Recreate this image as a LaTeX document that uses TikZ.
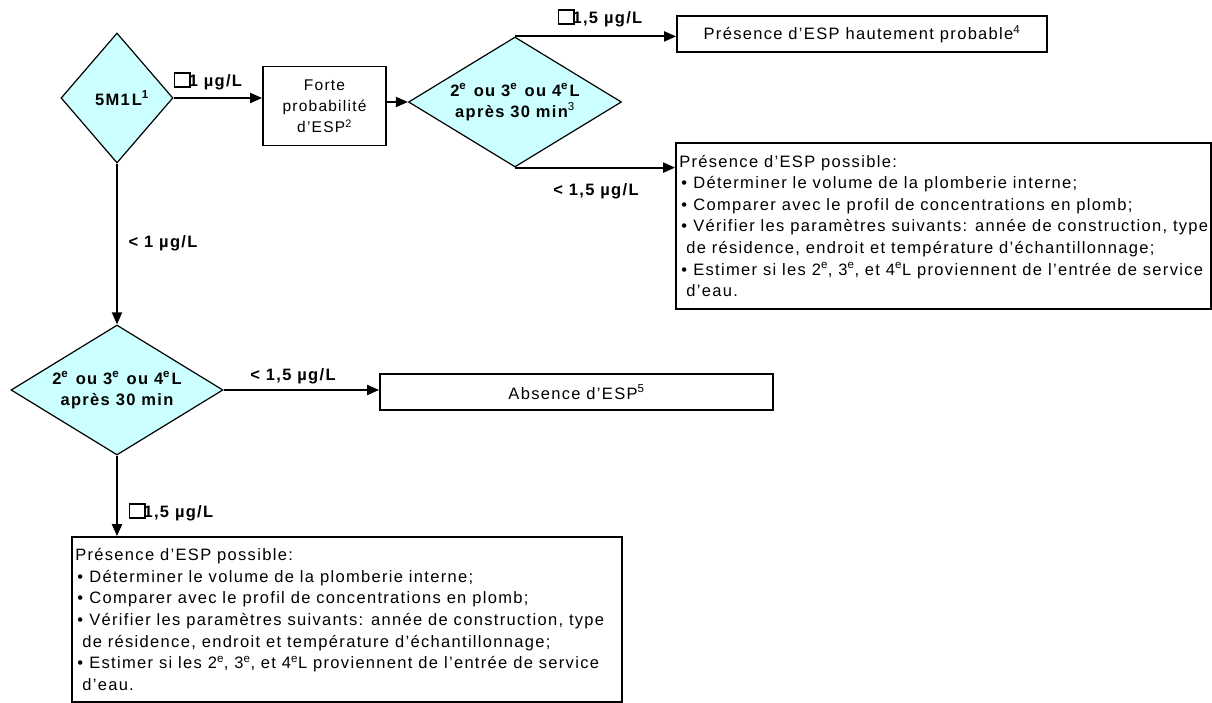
\documentclass[tikz,border=0pt]{standalone}
\usepackage{fontspec}
\setmainfont{Liberation Sans}[LetterSpace=8]
\usetikzlibrary{shapes.geometric,arrows.meta}
\definecolor{dfill}{RGB}{204,255,255}
\newcommand\missbox{{\fboxsep=0pt\fboxrule=1.4pt\fbox{\rule{0pt}{12.5pt}\hspace{14pt}}}\kern-2pt}
\newcommand\sups[1]{\textsuperscript{#1}}
\newcommand\supe{\textsuperscript{e}\kern1.5pt}
\newcommand\esplist{Présence d’ESP possible:\\
\makebox[14pt][l]{\hspace{2pt}\textbullet}Déterminer le volume de la plomberie interne;\\
\makebox[14pt][l]{\hspace{2pt}\textbullet}Comparer avec le profil de concentrations en plomb;\\
\makebox[14pt][l]{\hspace{2pt}\textbullet}Vérifier les paramètres suivants: année de construction, type\\
\hspace*{7pt}de résidence, endroit et température d’échantillonnage;\\
\makebox[14pt][l]{\hspace{2pt}\textbullet}Estimer si les 2\sups{e}, 3\sups{e}, et 4\sups{e}L proviennent de l’entrée de service\\
\hspace*{7pt}d’eau.}
\begin{document}
\begin{tikzpicture}[x=1pt,y=-1pt,
  every node/.style={font=\fontsize{16.5}{21.5}\selectfont},
  dia/.style={diamond, draw=black, line width=1.2pt, fill=dfill, inner sep=0pt, align=center, font=\fontsize{16.5}{21}\selectfont\bfseries},
  box/.style={draw=black, line width=1.8pt, inner sep=0pt, align=center},
  lbl/.style={font=\fontsize{16.5}{18}\selectfont\bfseries, inner sep=0pt},
  listtext/.style={anchor=west, align=left, inner sep=0pt, font=\fontsize{16.5}{21.6}\selectfont},
  arr/.style={line width=2pt, -{Triangle[length=12pt,width=10pt]}}
  ]
\useasboundingbox (0,0) rectangle (1212,703);
% decisions
\node[dia, minimum width=112pt, minimum height=130pt, aspect=0.86] (d1) at (117,98) {\hspace*{10pt}5M1\kern2pt L\sups{1}};
\node[dia, minimum width=213pt, minimum height=130pt, aspect=1.64] (d2) at (515,102) {2\supe{} ou 3\supe{} ou 4\supe{}L\\après 30 min{\mdseries\sups{3}}};
\node[dia, minimum width=212pt, minimum height=130pt, aspect=1.63] (d3) at (117,390) {2\supe{} ou 3\supe{} ou 4\supe{}L\\après 30 min};
% boxes
\node[box, minimum width=123pt, minimum height=79pt, font=\fontsize{15.5}{21}\selectfont] (b2) at (324.5,106) {Forte\\probabilité\\d’ESP\sups{2}};
\node[box, minimum width=370pt, minimum height=36pt] (b3) at (862,34) {Présence d’ESP hautement probable\sups{4}};
\node[box, minimum width=535pt, minimum height=166pt] (b4) at (943.5,226) {};
\node[listtext] (t4) at ([xshift=4pt]b4.west) {\esplist};
\node[box, minimum width=393pt, minimum height=36pt] (b5) at (576.5,392) {Absence d’ESP\sups{5}};
\node[box, minimum width=550pt, minimum height=165pt] (b6) at (347,619.5) {};
\node[listtext] (t6) at ([xshift=4pt]b6.west) {\esplist};
% labels
\node[lbl] (l1) at (208,81) {\missbox1 µg/L};
\node[lbl] (l2) at (600,18) {\missbox1,5 µg/L};
\node[lbl] (l3) at (596,191) {< 1,5 µg/L};
\node[lbl] (l4) at (163,243) {< 1 µg/L};
\node[lbl] (l5) at (293,376) {< 1,5 µg/L};
\node[lbl] (l6) at (171,512) {\missbox1,5 µg/L};
% connectors
\draw[arr] (d1.east) -- (d1.east -| b2.west);
\draw[arr] (b2.east |- d2.west) -- (d2.west);
\draw[arr] (d2.north) -- (d2.north -| b3.west);
\draw[arr] (d2.south) -- (d2.south -| b4.west);
\draw[arr] (d1.south) -- (d3.north);
\draw[arr] (d3.east) -- (d3.east -| b5.west);
\draw[arr] (d3.south) -- (d3.south |- b6.north);
\end{tikzpicture}
\end{document}
